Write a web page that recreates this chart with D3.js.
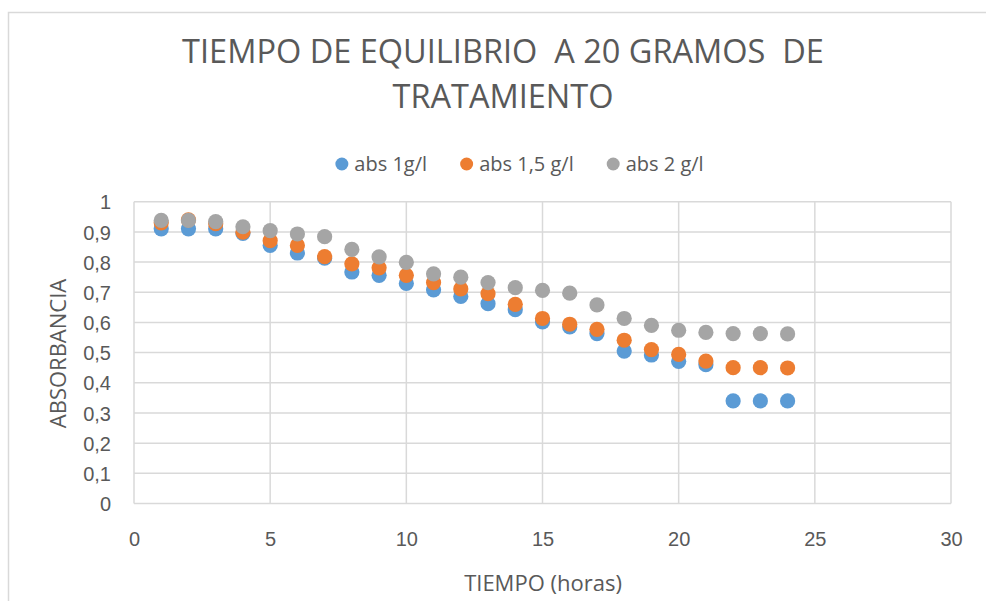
<!DOCTYPE html>
<html lang="es">
<head>
<meta charset="utf-8">
<title>Tiempo de equilibrio a 20 gramos de tratamiento</title>
<script src="https://cdn.jsdelivr.net/npm/d3@7"></script>
<style>
  html, body { margin: 0; padding: 0; background: #ffffff; }
  svg { display: block; font-family: "Open Sans", "Noto Sans", sans-serif; }
  text { fill: #595959; }
</style>
</head>
<body>
<svg id="chart" width="986" height="601"></svg>
<script>
// Time in hours
const horas = [1, 2, 3, 4, 5, 6, 7, 8, 9, 10, 11, 12, 13, 14, 15, 16, 17, 18, 19, 20, 21, 22, 23, 24];

// Absorbance readings for each concentration
const abs1 = [0.91, 0.91, 0.91, 0.895, 0.855, 0.83, 0.813, 0.767, 0.756, 0.729, 0.708, 0.686,
              0.662, 0.642, 0.602, 0.585, 0.563, 0.505, 0.492, 0.471, 0.46, 0.34, 0.34, 0.34];
const abs15 = [0.93, 0.94, 0.927, 0.899, 0.871, 0.855, 0.818, 0.794, 0.781, 0.756, 0.732, 0.711,
               0.695, 0.66, 0.613, 0.594, 0.577, 0.541, 0.51, 0.494, 0.472, 0.45, 0.45, 0.449];
const abs2 = [0.938, 0.938, 0.934, 0.917, 0.904, 0.893, 0.884, 0.842, 0.817, 0.799, 0.761, 0.75,
              0.732, 0.715, 0.706, 0.697, 0.658, 0.613, 0.59, 0.574, 0.567, 0.563, 0.563, 0.562];

const seriesNames = ["abs 1g/l", "abs 1,5 g/l", "abs 2 g/l"];
const xTicks = [0, 5, 10, 15, 20, 25, 30];
const yTicks = [0, 0.1, 0.2, 0.3, 0.4, 0.5, 0.6, 0.7, 0.8, 0.9, 1];

const series = [
  { name: seriesNames[0], values: abs1, color: "#5B9BD5" },
  { name: seriesNames[1], values: abs15, color: "#ED7D31" },
  { name: seriesNames[2], values: abs2, color: "#A5A5A5" }
];

const svg = d3.select("#chart");
const plot = { left: 134, right: 951, top: 201.7, bottom: 503.5 };

// Decimal comma for the value labels
const locale = d3.formatLocale({ decimal: ",", thousands: ".", grouping: [3], currency: ["", ""] });
const fmt = locale.format(".1~f");

const x = d3.scaleLinear().domain([0, 30]).range([plot.left, plot.right]);
const y = d3.scaleLinear().domain([0, 1]).range([plot.bottom, plot.top]);

// Outer chart frame
svg.append("rect")
  .attr("x", 8.5).attr("y", 12.5)
  .attr("width", 1200).attr("height", 1200)
  .attr("fill", "none")
  .attr("stroke", "#D9D9D9")
  .attr("stroke-width", 1.5);

// Gridlines
const grid = svg.append("g").attr("stroke", "#D9D9D9").attr("stroke-width", 1.5);
grid.selectAll("line.h").data(yTicks).join("line")
  .attr("class", "h")
  .attr("x1", plot.left).attr("x2", plot.right)
  .attr("y1", d => y(d)).attr("y2", d => y(d));
grid.selectAll("line.v").data(xTicks).join("line")
  .attr("class", "v")
  .attr("x1", d => x(d)).attr("x2", d => x(d))
  .attr("y1", plot.top).attr("y2", plot.bottom);

// Axes (labels only)
const xAxis = svg.append("g")
  .attr("transform", `translate(0,${plot.bottom})`)
  .call(d3.axisBottom(x).tickValues(xTicks).tickSize(0).tickFormat(fmt));
xAxis.select(".domain").remove();
xAxis.selectAll("text")
  .attr("y", 42.5).attr("dy", 0)
  .attr("font-size", 20)
  .style("fill", "#595959");

const yAxis = svg.append("g")
  .attr("transform", `translate(${plot.left},0)`)
  .call(d3.axisLeft(y).tickValues(yTicks).tickSize(0).tickPadding(23).tickFormat(fmt));
yAxis.select(".domain").remove();
yAxis.selectAll("text")
  .attr("dy", "0.36em")
  .attr("font-size", 20)
  .style("fill", "#595959");
yAxis.selectAll(".tick line").remove();
xAxis.selectAll(".tick line").remove();

// Data points
series.forEach(s => {
  svg.append("g").selectAll("circle")
    .data(s.values.map((v, i) => ({ x: horas[i], y: v })))
    .join("circle")
    .attr("cx", d => x(d.x))
    .attr("cy", d => y(d.y))
    .attr("r", 7.6)
    .attr("fill", s.color);
});

// Title
const title = svg.append("text")
  .attr("text-anchor", "middle")
  .attr("font-size", 32.5)
  .style("white-space", "pre");
title.append("tspan").attr("x", 503).attr("y", 63).text("TIEMPO DE EQUILIBRIO  A 20 GRAMOS  DE");
title.append("tspan").attr("x", 503).attr("y", 108).text("TRATAMIENTO");

// Legend
const legend = svg.append("g");
let cursor = 0;
series.forEach(s => {
  const item = legend.append("g").attr("transform", `translate(${cursor},0)`);
  item.append("circle").attr("cx", 6.5).attr("cy", 0).attr("r", 6.5).attr("fill", s.color);
  const t = item.append("text").attr("x", 19).attr("y", 0).attr("dy", "0.36em")
    .attr("font-size", 20).text(s.name);
  cursor += 19 + t.node().getComputedTextLength() + 33;
});
const legendWidth = cursor - 33;
legend.attr("transform", `translate(${519.5 - legendWidth / 2},164)`);

// Axis titles
svg.append("text")
  .attr("text-anchor", "middle")
  .attr("x", 543).attr("y", 591)
  .attr("font-size", 22)
  .text("TIEMPO (horas)");

svg.append("text")
  .attr("text-anchor", "middle")
  .attr("transform", `translate(66,353.5) rotate(-90)`)
  .attr("font-size", 22)
  .text("ABSORBANCIA");
</script>
</body>
</html>
